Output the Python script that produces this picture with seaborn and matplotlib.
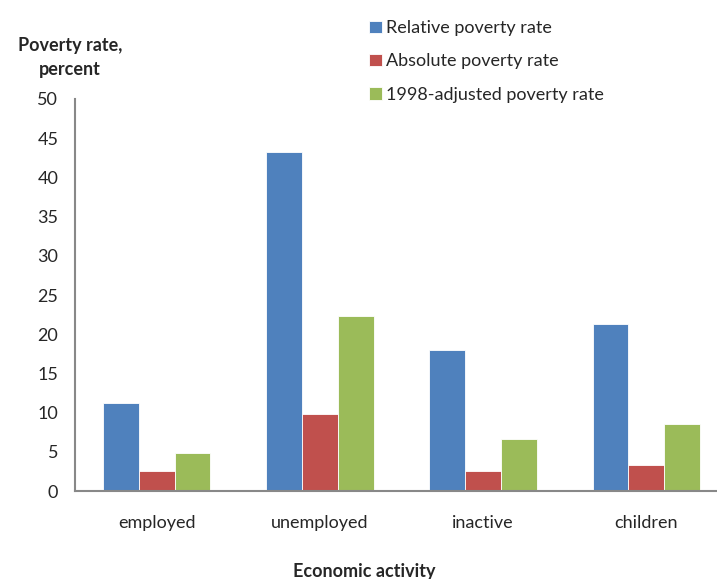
import numpy as np
import pandas as pd
import seaborn as sns
import matplotlib.pyplot as plt
from matplotlib.ticker import FixedLocator

categories = ['employed', 'unemployed', 'inactive', 'children']
series = ['Relative poverty rate', 'Absolute poverty rate', '1998-adjusted poverty rate']
relative = [11.2, 43.3, 18.0, 21.3]
absolute = [2.5, 9.8, 2.5, 3.3]
adjusted = [4.9, 22.3, 6.6, 8.5]
colors = ['#4F81BD', '#C0504D', '#9BBB59']

def main():
    rows = []
    for name, vals in zip(series, [relative, absolute, adjusted]):
        for cat, v in zip(categories, vals):
            rows.append({'activity': cat, 'series': name, 'value': v})
    df = pd.DataFrame(rows)

    sns.set_style('white')
    plt.rcParams['font.family'] = ['Lato', 'DejaVu Sans']

    fig = plt.figure(figsize=(7.17, 5.79), dpi=100)
    W, H = 717, 579
    left, right, bottom, top = 75, 728, 491, 99
    ax = fig.add_axes([left / W, (H - bottom) / H, (right - left) / W, (bottom - top) / H])

    sns.barplot(data=df, x='activity', y='value', hue='series', palette=colors,
                saturation=1, width=0.66, ax=ax, edgecolor='white', linewidth=0.6,
                legend=True)

    ax.set_ylim(0, 50)
    ax.set_xlim(-0.5, 3.5)
    ax.set_yticks(np.arange(0, 51, 5))
    ax.tick_params(axis='y', labelsize=13, length=6, color='#888888', width=1.5, pad=6)
    ax.tick_params(axis='x', which='major', length=0, labelsize=13, pad=17)
    ax.xaxis.set_minor_locator(FixedLocator([-0.5, 0.5, 1.5, 2.5, 3.5]))
    ax.tick_params(axis='x', which='minor', length=6, color='#888888', width=1.5)
    for s in ['top', 'right']:
        ax.spines[s].set_visible(False)
    for s in ['left', 'bottom']:
        ax.spines[s].set_color('#888888')
        ax.spines[s].set_linewidth(1.5)
    ax.set_xlabel('')
    ax.set_ylabel('')

    fig.text(70 / W, 1 - 57 / H, 'Poverty rate,\npercent', ha='center', va='center',
             fontsize=13, fontweight='bold', linespacing=1.5)
    fig.text(364 / W, 1 - 572 / H, 'Economic activity', ha='center', va='center',
             fontsize=13, fontweight='bold')

    handles, labels = ax.get_legend_handles_labels()
    ax.get_legend().remove()
    fig.legend(handles, labels, loc='upper left', bbox_to_anchor=(353 / W, 1 - 4 / H),
               frameon=False, fontsize=13, handlelength=0.7, handleheight=0.7,
               handletextpad=0.2, labelspacing=0.95)

    fig.savefig('out.png', dpi=100)

if __name__ == '__main__':
    main()
